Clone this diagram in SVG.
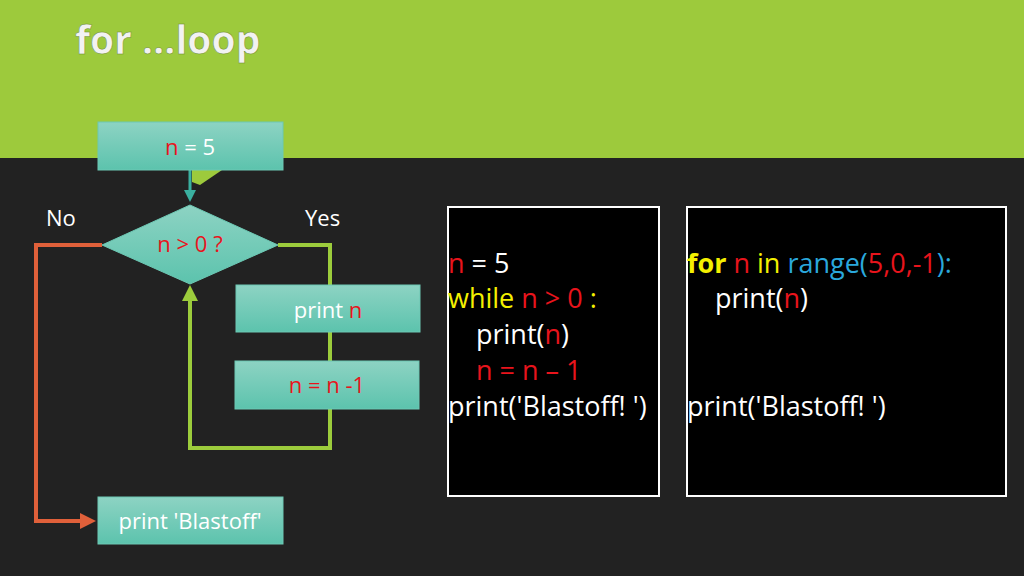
<svg xmlns="http://www.w3.org/2000/svg" width="1024" height="576" viewBox="0 0 1024 576">
<defs>
<linearGradient id="tg" x1="0" y1="0" x2="0" y2="1"><stop offset="0" stop-color="#8dd3c3"/><stop offset="1" stop-color="#5cc3ad"/></linearGradient>
<marker id="ag" markerWidth="4" markerHeight="4" refX="2" refY="2" orient="auto" markerUnits="strokeWidth"><path d="M0,0L4,2L0,4z" fill="#9ccc3c"/></marker>
<marker id="ao" markerWidth="4" markerHeight="4" refX="2" refY="2" orient="auto" markerUnits="strokeWidth"><path d="M0,0L4,2L0,4z" fill="#e0603a"/></marker>
<marker id="at" markerWidth="4" markerHeight="4" refX="2" refY="2" orient="auto" markerUnits="strokeWidth"><path d="M0,0L4,2L0,4z" fill="#3ab0a0"/></marker>
</defs>
<style>
.box{fill:url(#tg);stroke:#6cc8b4;stroke-width:1}
.t{font-family:"Open Sans",sans-serif;font-size:22px;fill:#fff;text-anchor:middle}
.c{font-family:"Open Sans",sans-serif;font-size:27px;fill:#fff}
.r{fill:#e8141c}.y{fill:#f4f000}.b{fill:#2aa8dc}
.code{fill:#000;stroke:#fff;stroke-width:2}
</style>
<rect width="1024" height="576" fill="#222"/>
<rect width="1024" height="158" fill="#9dca3c"/>
<text x="75" y="54" font-family="'Open Sans',sans-serif" font-size="39" font-weight="bold" fill="#f2f2f2" stroke="#6a8a2a" stroke-width="0.5">for …loop</text>
<polygon points="192,170 222,170 200,185 192,182" fill="#9dca3c"/>
<g id="connectors" fill="none" stroke-width="4">
<path d="M190,170V196" stroke="#3ab0a0" stroke-width="3" marker-end="url(#at)"/>
<path d="M278,245H330V448H190V293" stroke="#9ccc3c" marker-end="url(#ag)"/>
<path d="M102,245H36V521H88" stroke="#e0603a" marker-end="url(#ao)"/>
</g>
<g id="n5"><rect class="box" x="98" y="122" width="185" height="48"/><text class="t" x="190" y="155"><tspan class="r">n</tspan> = 5</text></g>
<g id="cond"><polygon class="box" points="190,205 278,245 190,284 102,245"/><text class="t" x="190" y="252" font-size="18"><tspan class="r">n &gt; 0 ?</tspan></text></g>
<g id="printn"><rect class="box" x="236" y="285" width="184" height="47"/><text class="t" x="328" y="318">print <tspan class="r">n</tspan></text></g>
<g id="dec"><rect class="box" x="235" y="361" width="184" height="48"/><text class="t" x="327" y="393"><tspan class="r">n = n -1</tspan></text></g>
<g id="blast"><rect class="box" x="98" y="497" width="185" height="47"/><text class="t" x="190" y="529">print 'Blastoff'</text></g>
<g id="while"><rect class="code" x="448" y="207" width="211" height="289"/>
<text class="c" x="448" y="273"><tspan class="r">n</tspan> = 5</text>
<text class="c" x="448" y="308"><tspan class="y">while </tspan><tspan class="r">n &gt; 0 </tspan><tspan class="y">:</tspan></text>
<text class="c" x="476" y="344">print(<tspan class="r">n</tspan>)</text>
<text class="c r" x="476" y="380">n = n – 1</text>
<text class="c" x="448" y="416">print('Blastoff! ')</text></g>
<g id="for"><rect class="code" x="687" y="207" width="319" height="289"/>
<text class="c" x="687" y="273"><tspan class="y" font-weight="bold">for </tspan><tspan class="r">n </tspan><tspan class="y">in </tspan><tspan class="b">range(</tspan><tspan class="r">5,0,-1</tspan><tspan class="b">):</tspan></text>
<text class="c" x="715" y="308">print(<tspan class="r">n</tspan>)</text>
<text class="c" x="687" y="416">print('Blastoff! ')</text></g>
<text x="46" y="226" font-family="'Open Sans',sans-serif" font-size="22" fill="#fff">No</text>
<text x="305" y="226" font-family="'Open Sans',sans-serif" font-size="22" fill="#fff">Yes</text>
</svg>
